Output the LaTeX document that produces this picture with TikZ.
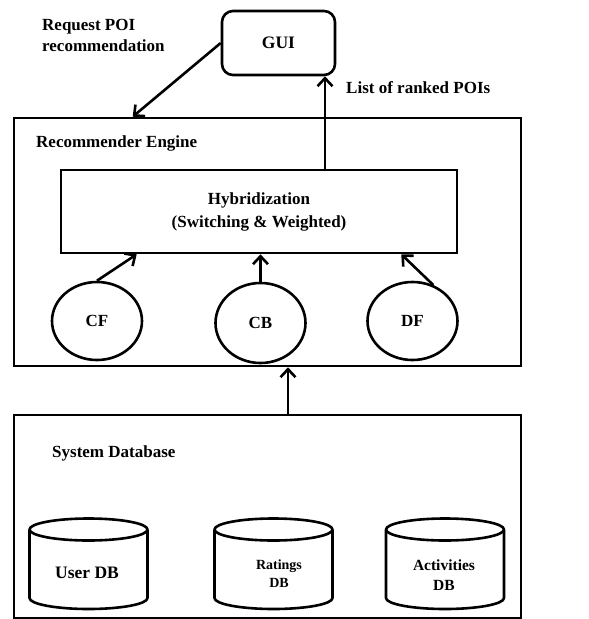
\documentclass[tikz,border=0pt]{standalone}
\usepackage{fontspec}
\setmainfont{Liberation Serif}
\usetikzlibrary{arrows.meta,shapes.geometric,calc}
\tikzset{
  lw/.style={line width=2.6pt},
  box/.style={lw, draw, rectangle, inner sep=0pt},
  oval/.style={lw, draw, ellipse, inner sep=0pt, minimum width=90pt, minimum height=78pt, font=\fontsize{17}{19}\selectfont\bfseries},
  lbl/.style={font=\fontsize{17}{21}\selectfont\bfseries, inner sep=0pt},
  arr/.style={lw, -{Straight Barb[length=8pt,width=15pt,line width=2.6pt]}},
  cyl/.style={lw, line join=round}
}
\begin{document}
\begin{tikzpicture}[x=1pt,y=-1pt]
\useasboundingbox (0,0) rectangle (589,619);
% GUI
\node[box, rounded corners=11pt, minimum width=113pt, minimum height=64pt, font=\fontsize{17.5}{19}\selectfont\bfseries] (gui) at (278.5,43) {GUI};
\node[lbl, anchor=north west, align=left] (req) at (42,19) {Request POI\\recommendation};
\node[lbl, anchor=west] (list) at (346,88) {List of ranked POIs};
% Recommender engine
\node[box, minimum width=507pt, minimum height=248pt] (rec) at (267.5,242) {};
\node[lbl, anchor=west] (rectitle) at (36,143) {Recommender Engine};
\node[box, minimum width=396pt, minimum height=83pt, align=center, font=\fontsize{17}{23}\selectfont\bfseries] (hyb) at (259,211.5) {Hybridization\\(Switching \& Weighted)};
\node[oval] (cf) at (97,321) {CF};
\node[oval, minimum height=80pt] (cb) at (260.5,323) {CB};
\node[oval] (df) at (412.5,321) {DF};
% System database
\node[box, minimum width=507pt, minimum height=203pt] (db) at (267.5,516.5) {};
\node[lbl, anchor=west] (dbtitle) at (52,453) {System Database};
% cylinders
\foreach \cx/\nm in {88.5/u, 273.5/r, 445/a}{
  \draw[cyl] (\cx,529.5) ellipse [x radius=59pt, y radius=11pt];
  \draw[cyl] ($(\cx,529.5)+(-59,0)$) -- ($(\cx,598)+(-59,0)$) arc[start angle=180, end angle=360, x radius=59pt, y radius=11pt] -- ($(\cx,529.5)+(59,0)$);
}
\node[lbl, font=\fontsize{17.5}{19}\selectfont\bfseries] (udb) at (87,573) {User DB};
\node[lbl, align=center, font=\fontsize{14}{18}\selectfont\bfseries] (rdb) at (279,574) {Ratings\\DB};
\node[lbl, align=center, font=\fontsize{15.5}{20}\selectfont\bfseries] (adb) at (444,575) {Activities\\DB};
% connectors
\coordinate (recin) at ([xshift=120pt]rec.north west);
\draw[arr] (gui.west) -- (recin);
\coordinate (ax) at (325,0);
\draw[arr] (ax |- hyb.north) -- (ax |- gui.south);
\draw[arr] (cf.north) -- ([xshift=77pt]hyb.south west);
\draw[arr] (cb.north) -- (cb.north |- hyb.south);
\draw[arr] (df.60) -- ([xshift=-57pt]hyb.south east);
\coordinate (bx) at (288,0);
\draw[arr] (bx |- db.north) -- (bx |- rec.south);
\end{tikzpicture}
\end{document}
